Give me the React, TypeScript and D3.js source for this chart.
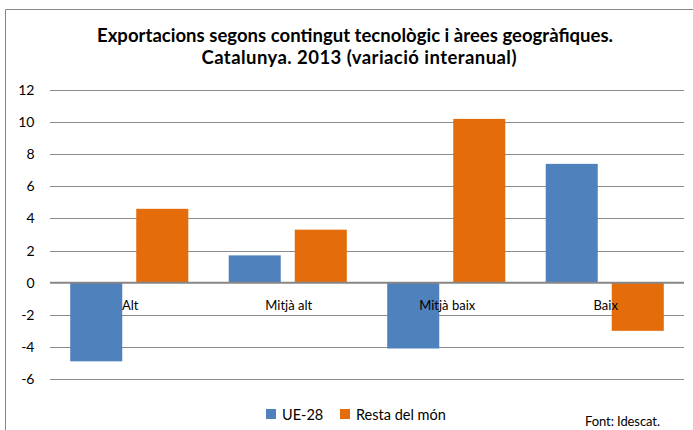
import React from 'react';
import * as d3 from 'd3';

// values
const categories = ['Alt', 'Mitjà alt', 'Mitjà baix', 'Baix'];
const seriesNames = ['UE-28', 'Resta del món'];
const ue28 = [-4.9, 1.7, -4.1, 7.4];
const restaMon = [4.6, 3.3, 10.2, -3.0];
const yTicks = [-6, -4, -2, 0, 2, 4, 6, 8, 10, 12];
const colors = ['#4F81BD', '#E46C0A'];

const W = 693;
const H = 430;
const margin = { top: 90, right: 9, bottom: 51, left: 50 };
const font = 'Lato, "Open Sans", sans-serif';

const App = () => {
  const x0 = d3.scaleBand().domain(categories).range([margin.left, W - margin.right]).padding(0);
  const groupW = x0.bandwidth() * 0.745;
  const x1 = d3.scaleBand().domain(seriesNames).range([0, groupW]).paddingInner(0.212).paddingOuter(0);
  const y = d3.scaleLinear().domain([-6, 12]).range([H - margin.bottom, margin.top]);

  const series = [ue28, restaMon];

  return (
    <div style={{ position: 'absolute', left: 0, top: 0 }}>
      <svg width={W} height={H} style={{ display: 'block', background: '#fff' }}>
        {/* chart frame, only top and left visible */}
        <line x1={5.5} x2={W} y1={9.5} y2={9.5} stroke="#868686" strokeWidth={1} />
        <line x1={5.5} x2={5.5} y1={9.5} y2={H} stroke="#868686" strokeWidth={1} />

        <text x={355} y={42} textAnchor="middle" fontFamily={font} fontWeight="bold" fontSize={18.5} fill="#000"
          textLength={516} lengthAdjust="spacing">
          Exportacions segons contingut tecnològic i àrees geogràfiques.
        </text>
        <text x={359} y={64} textAnchor="middle" fontFamily={font} fontWeight="bold" fontSize={18.5} fill="#000"
          textLength={315} lengthAdjust="spacing">
          Catalunya. 2013 (variació interanual)
        </text>

        {/* grid */}
        {yTicks.filter(t => t !== 0).map(t => (
          <line key={t} x1={margin.left} x2={W - margin.right} y1={Math.round(y(t)) + 0.5} y2={Math.round(y(t)) + 0.5}
            stroke="#8c8c8c" strokeWidth={1} />
        ))}
        {yTicks.map(t => (
          <text key={'l' + t} x={34.5} y={y(t)} dy="0.36em" textAnchor="end" fontFamily={font} fontSize={14} fill="#000">
            {t}
          </text>
        ))}

        {/* bars */}
        {categories.map((c, i) => {
          const gx = (x0(c) as number) + (x0.bandwidth() - groupW) / 2;
          return (
            <g key={c}>
              {series.map((s, j) => {
                const v = s[i];
                const top = y(Math.max(0, v));
                const bot = y(Math.min(0, v));
                return (
                  <rect key={j} x={gx + (x1(seriesNames[j]) as number)} y={top} width={x1.bandwidth()} height={bot - top}
                    fill={colors[j]} />
                );
              })}
            </g>
          );
        })}

        {/* zero axis */}
        <line x1={margin.left} x2={W - margin.right} y1={y(0)} y2={y(0)} stroke="#868686" strokeWidth={2} />

        {categories.map(c => (
          <text key={c} x={(x0(c) as number) + x0.bandwidth() / 2 + 1} y={y(0) + 27} textAnchor="middle"
            fontFamily={font} fontSize={13} fill="#000">
            {c}
          </text>
        ))}

        {/* legend */}
        {seriesNames.map((n, j) => {
          const lx = [266, 340][j];
          return (
            <g key={n}>
              <rect x={lx} y={409} width={10} height={10} fill={colors[j]} />
              <text x={lx + 16} y={419.5} fontFamily={font} fontSize={14.5} fill="#000">{n}</text>
            </g>
          );
        })}
        <text x={585} y={426} fontFamily={font} fontSize={13} fill="#000" textLength={75} lengthAdjust="spacing">
          Font: Idescat.
        </text>
      </svg>
    </div>
  );
};

export default App;
